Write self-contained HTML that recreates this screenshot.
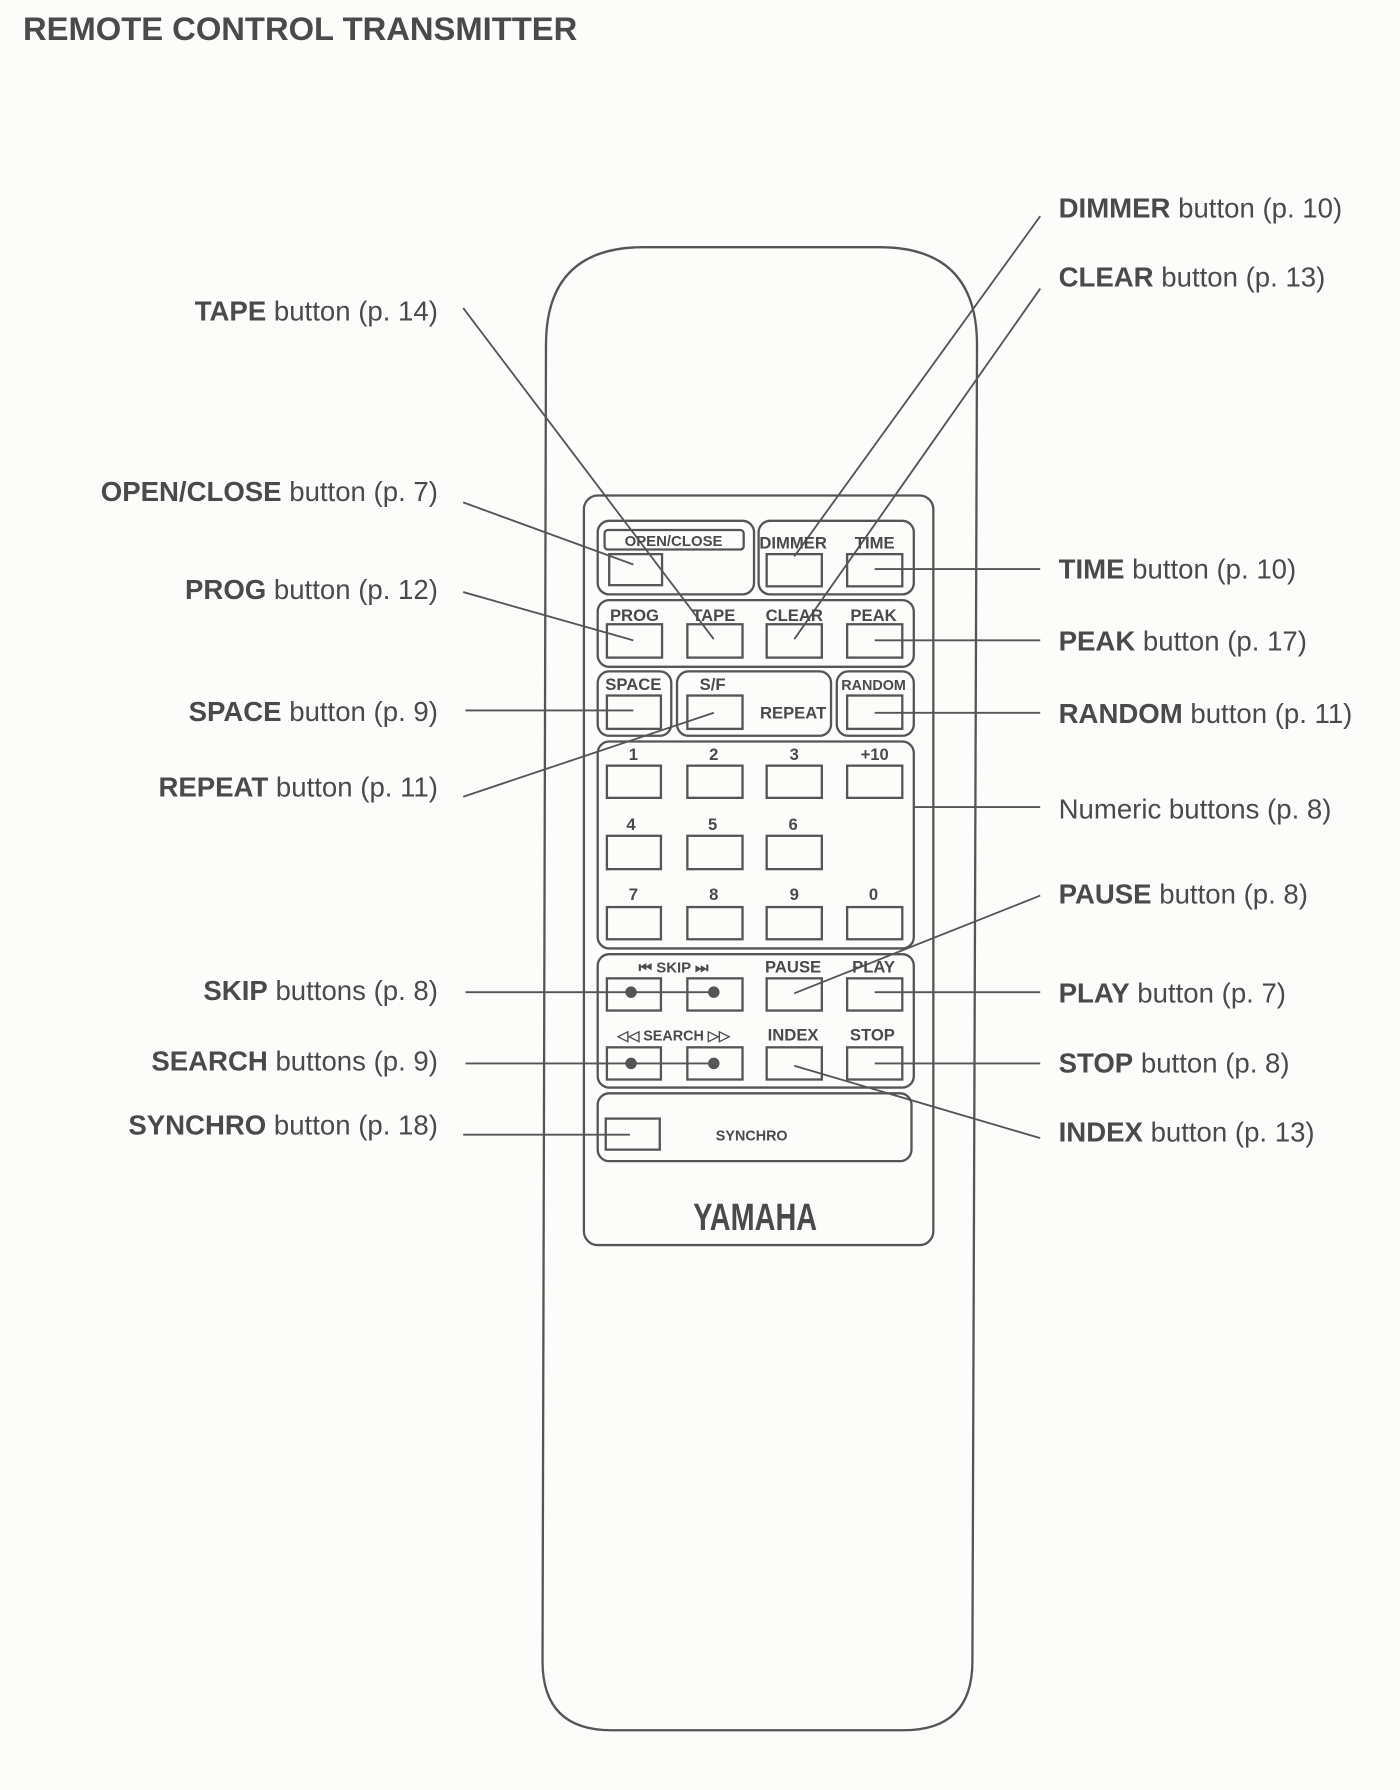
<!DOCTYPE html>
<html><head><meta charset="utf-8"><style>
html,body{margin:0;padding:0;background:#fcfcfa;}
svg{display:block}
text{font-family:"Liberation Sans",sans-serif;fill:#4a4a4a}
.l{font-size:24px}
.b{font-size:14.5px;font-weight:bold;text-anchor:middle}
</style></head><body>
<svg width="1400" height="1790" viewBox="0 0 1218 1557" preserveAspectRatio="none" xmlns="http://www.w3.org/2000/svg">
<rect width="1218" height="1557" fill="#fcfcfa"/>
<text x="20" y="35" style="font-size:28.5px;font-weight:bold">REMOTE CONTROL TRANSMITTER</text>
<g fill="none" stroke="#555" stroke-width="2">
<path d="M475 300 Q475 215 560 215 L765 215 Q850 215 850 300 L846 1445 Q846 1505 786 1505 L532 1505 Q472 1505 472 1445 Z"/>
<rect x="508" y="431" width="304" height="652" rx="12"/>
<rect x="520" y="453" width="136" height="64" rx="10"/>
<rect x="526" y="461" width="121" height="17" rx="3"/>
<rect x="660" y="453" width="135" height="64" rx="10"/>
<rect x="520" y="522" width="275" height="58" rx="10"/>
<rect x="520" y="584" width="64" height="56" rx="10"/>
<rect x="589" y="584" width="134" height="56" rx="10"/>
<rect x="728" y="584" width="67" height="56" rx="10"/>
<rect x="520" y="645" width="275" height="180" rx="10"/>
<rect x="520" y="830" width="275" height="116" rx="10"/>
<rect x="520" y="951" width="273" height="59" rx="10"/>
<g stroke-width="2">
<rect x="530" y="482" width="46" height="27"/>
<rect x="667" y="482" width="48" height="28"/><rect x="737" y="482" width="48" height="28"/>
<rect x="528" y="543" width="48" height="29"/><rect x="598" y="543" width="48" height="29"/><rect x="667" y="543" width="48" height="29"/><rect x="737" y="543" width="48" height="29"/>
<rect x="528" y="605" width="47" height="29"/><rect x="598" y="605" width="48" height="29"/><rect x="737" y="605" width="48" height="29"/>
<rect x="528" y="666" width="47" height="28"/><rect x="598" y="666" width="48" height="28"/><rect x="667" y="666" width="48" height="28"/><rect x="737" y="666" width="48" height="28"/>
<rect x="528" y="727" width="47" height="29"/><rect x="598" y="727" width="48" height="29"/><rect x="667" y="727" width="48" height="29"/>
<rect x="528" y="789" width="47" height="28"/><rect x="598" y="789" width="48" height="28"/><rect x="667" y="789" width="48" height="28"/><rect x="737" y="789" width="48" height="28"/>
<rect x="528" y="851" width="47" height="28"/><rect x="598" y="851" width="48" height="28"/><rect x="667" y="851" width="48" height="28"/><rect x="737" y="851" width="48" height="28"/>
<rect x="528" y="911" width="47" height="28"/><rect x="598" y="911" width="48" height="28"/><rect x="667" y="911" width="48" height="28"/><rect x="737" y="911" width="48" height="28"/>
<rect x="527" y="973" width="47" height="27"/>
</g>
<g stroke-width="1.6">
<line x1="403" y1="268" x2="621" y2="556"/>
<line x1="403" y1="437" x2="551" y2="491"/>
<line x1="403" y1="515" x2="551" y2="557"/>
<line x1="405" y1="618" x2="551" y2="618"/>
<line x1="403" y1="693" x2="621" y2="620"/>
<line x1="405" y1="863" x2="621" y2="863"/>
<line x1="405" y1="925" x2="621" y2="925"/>
<line x1="403" y1="987" x2="548" y2="987"/>
<line x1="905" y1="188" x2="691" y2="484"/>
<line x1="905" y1="251" x2="691" y2="556"/>
<line x1="905" y1="495" x2="761" y2="495"/>
<line x1="905" y1="557" x2="761" y2="557"/>
<line x1="905" y1="620" x2="761" y2="620"/>
<line x1="905" y1="702" x2="795" y2="702"/>
<line x1="905" y1="779" x2="691" y2="864"/>
<line x1="905" y1="863" x2="761" y2="863"/>
<line x1="905" y1="925" x2="761" y2="925"/>
<line x1="905" y1="990" x2="691" y2="927"/>
</g>
</g>
<g fill="#555"><circle cx="549" cy="863" r="5"/><circle cx="621" cy="863" r="5"/><circle cx="549" cy="925" r="5"/><circle cx="621" cy="925" r="5"/></g>
<g class="bt">
<text class="b" x="586" y="475" style="font-size:13px">OPEN/CLOSE</text>
<text class="b" x="690" y="477">DIMMER</text><text class="b" x="761" y="477">TIME</text>
<text class="b" x="552" y="540">PROG</text><text class="b" x="621" y="540">TAPE</text><text class="b" x="691" y="540">CLEAR</text><text class="b" x="760" y="540">PEAK</text>
<text class="b" x="551" y="600">SPACE</text><text class="b" x="620" y="600">S/F</text><text class="b" x="760" y="600" style="font-size:12.5px">RANDOM</text>
<text class="b" x="690" y="625">REPEAT</text>
<text class="b" x="551" y="661">1</text><text class="b" x="621" y="661">2</text><text class="b" x="691" y="661">3</text><text class="b" x="761" y="661">+10</text>
<text class="b" x="549" y="722">4</text><text class="b" x="620" y="722">5</text><text class="b" x="690" y="722">6</text>
<text class="b" x="551" y="783">7</text><text class="b" x="621" y="783">8</text><text class="b" x="691" y="783">9</text><text class="b" x="760" y="783">0</text>
<text class="b" x="586" y="846" style="font-size:13px">⏮ SKIP ⏭</text>
<text class="b" x="690" y="846">PAUSE</text><text class="b" x="760" y="846">PLAY</text>
<text class="b" x="586" y="905" style="font-size:12.5px">◁◁ SEARCH ▷▷</text>
<text class="b" x="690" y="905">INDEX</text><text class="b" x="759" y="905">STOP</text>
<text class="b" x="654" y="992" style="font-size:12.5px">SYNCHRO</text>
<text x="657" y="1070" style="font-size:33px;font-weight:bold;text-anchor:middle" transform="translate(657 0) scale(0.76 1) translate(-657 0)">YAMAHA</text>
</g>
<g class="l" text-anchor="end">
<text x="381" y="279"><tspan font-weight="bold">TAPE</tspan> button (p. 14)</text>
<text x="381" y="436"><tspan font-weight="bold">OPEN/CLOSE</tspan> button (p. 7)</text>
<text x="381" y="521"><tspan font-weight="bold">PROG</tspan> button (p. 12)</text>
<text x="381" y="627"><tspan font-weight="bold">SPACE</tspan> button (p. 9)</text>
<text x="381" y="693"><tspan font-weight="bold">REPEAT</tspan> button (p. 11)</text>
<text x="381" y="870"><tspan font-weight="bold">SKIP</tspan> buttons (p. 8)</text>
<text x="381" y="931"><tspan font-weight="bold">SEARCH</tspan> buttons (p. 9)</text>
<text x="381" y="987"><tspan font-weight="bold">SYNCHRO</tspan> button (p. 18)</text>
</g>
<g class="l">
<text x="921" y="189"><tspan font-weight="bold">DIMMER</tspan> button (p. 10)</text>
<text x="921" y="249"><tspan font-weight="bold">CLEAR</tspan> button (p. 13)</text>
<text x="921" y="503"><tspan font-weight="bold">TIME</tspan> button (p. 10)</text>
<text x="921" y="566"><tspan font-weight="bold">PEAK</tspan> button (p. 17)</text>
<text x="921" y="629"><tspan font-weight="bold">RANDOM</tspan> button (p. 11)</text>
<text x="921" y="712">Numeric buttons (p. 8)</text>
<text x="921" y="786"><tspan font-weight="bold">PAUSE</tspan> button (p. 8)</text>
<text x="921" y="872"><tspan font-weight="bold">PLAY</tspan> button (p. 7)</text>
<text x="921" y="933"><tspan font-weight="bold">STOP</tspan> button (p. 8)</text>
<text x="921" y="993"><tspan font-weight="bold">INDEX</tspan> button (p. 13)</text>
</g>
</svg>
</body></html>
